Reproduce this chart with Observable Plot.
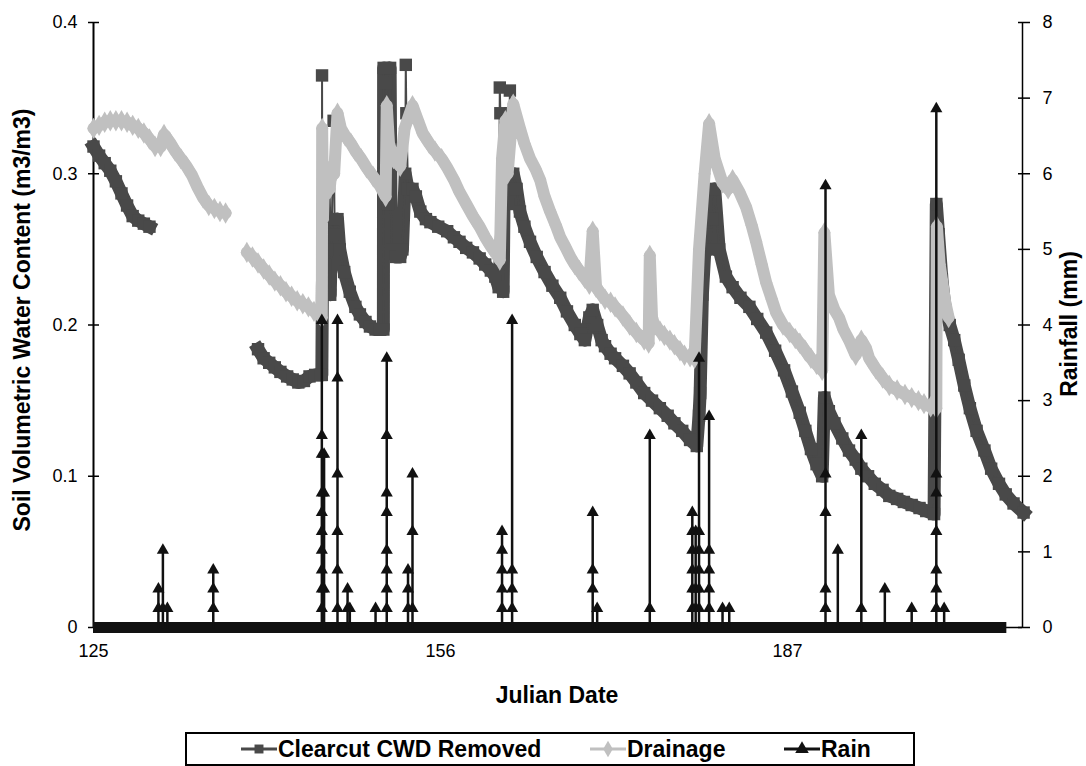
<!DOCTYPE html>
<html><head><meta charset="utf-8">
<script src="https://cdn.jsdelivr.net/npm/d3@7"></script>
<script src="https://cdn.jsdelivr.net/npm/@observablehq/plot@0.6"></script>
<style>
body{margin:0;background:#fff;font-family:"Liberation Sans",Arial,sans-serif;}
#chart{position:absolute;left:0;top:0;}
#legend{position:absolute;left:185px;top:732px;width:730px;height:34px;border:2px solid #000;box-sizing:border-box;background:#fff;}
.item{position:absolute;top:0;height:30px;display:flex;align-items:center;font-size:23px;font-weight:bold;color:#000;white-space:nowrap;}
.item svg{margin-right:1px;}
</style></head><body>
<div id="chart"></div>
<div id="legend"></div>
<script>
// ---------- data ----------
const xDomain = [125, 208];
const yDomain = [0, 0.4];
const rainMax = 8;
const leftTicks = [0, 0.1, 0.2, 0.3, 0.4];
const rightTicks = [0, 1, 2, 3, 4, 5, 6, 7, 8];
const xTicks = [125, 156, 187];
const seriesNames = ["Clearcut CWD Removed", "Drainage", "Rain"];

// Clearcut CWD Removed (m3/m3): continuous record; NaN = gap in record
const ccDay = [125.0,125.5,126.0,126.5,127.0,127.5,128.0,128.5,129.0,129.5,130.0,
  135.0,
  139.7,140.2,140.7,141.2,141.7,142.3,142.8,143.3,143.8,144.3,144.8,145.3,
  145.4,145.45,145.6,145.75,145.95,146.15,146.3,146.55,146.8,147.0,147.4,147.9,148.4,148.8,149.3,149.7,150.2,150.6,150.9,
  150.92,151.0,151.15,151.3,151.5,151.6,152.0,152.4,152.6,152.85,153.1,153.5,153.8,154.2,154.7,155.1,155.8,156.6,157.2,157.7,158.3,158.9,159.5,160.0,160.5,160.9,
  161.2,161.45,161.6,161.7,162.1,162.5,162.8,163.1,163.5,164.0,164.6,165.3,166.0,166.7,167.3,168.0,168.5,168.9,169.3,169.6,170.0,170.4,170.7,171.2,171.6,172.3,172.9,173.5,174.2,174.9,175.6,176.3,176.9,177.6,178.3,178.9,
  179.1,179.2,179.4,179.7,180.0,180.3,180.5,180.9,181.5,182.1,182.8,183.6,184.3,185.1,185.9,186.7,187.4,188.1,188.6,189.1,189.6,190.1,
  190.3,190.7,191.2,191.9,192.5,193.1,193.6,194.2,194.8,195.5,196.1,196.8,197.4,198.1,198.8,199.4,200.1,
  200.3,200.5,200.8,201.1,201.5,201.9,202.3,202.8,203.3,203.9,204.6,205.2,205.9,206.5,207.2,208.1];
const ccVal = [0.318,0.312,0.307,0.302,0.295,0.287,0.279,0.272,0.269,0.267,0.265,
  NaN,
  0.184,0.178,0.175,0.172,0.169,0.166,0.164,0.162,0.163,0.166,0.167,0.167,
  0.167,0.225,0.29,0.24,0.25,0.22,0.27,0.26,0.27,0.25,0.235,0.222,0.212,0.207,0.202,0.199,0.197,0.197,0.197,
  0.37,0.3,0.36,0.28,0.37,0.25,0.245,0.245,0.25,0.3,0.29,0.29,0.285,0.275,0.27,0.268,0.265,0.262,0.258,0.255,0.251,0.248,0.244,0.24,0.236,0.232,
  0.225,0.26,0.222,0.3,0.28,0.3,0.29,0.275,0.265,0.255,0.245,0.235,0.226,0.218,0.209,0.2,0.194,0.19,0.205,0.21,0.2,0.19,0.186,0.181,0.178,0.173,0.168,0.162,0.155,0.15,0.145,0.14,0.135,0.13,0.124,0.12,
  0.14,0.155,0.22,0.26,0.25,0.27,0.29,0.25,0.232,0.225,0.218,0.212,0.204,0.195,0.183,0.17,0.156,0.142,0.13,0.118,0.108,0.1,
  0.152,0.143,0.135,0.125,0.117,0.111,0.105,0.1,0.095,0.091,0.087,0.085,0.083,0.081,0.079,0.077,0.075,
  0.28,0.26,0.23,0.21,0.2,0.19,0.177,0.16,0.145,0.13,0.117,0.105,0.095,0.088,0.082,0.076];
// Clearcut: isolated high readings (spikes)
const ccPeakDay = [145.42,146.45,152.9,152.95,161.3,161.35,161.9,162.2,162.25];
const ccPeakVal = [0.365,0.335,0.372,0.34,0.357,0.34,0.33,0.355,0.34];

// Drainage (m3/m3)
const drDay = [125.0,125.5,126.0,126.5,127.0,127.5,128.0,128.5,129.0,129.5,130.0,130.5,131.0,131.3,131.8,132.3,132.8,133.3,133.8,134.3,134.8,135.3,135.8,136.3,136.8,
  137.7,
  138.7,139.2,139.7,140.2,140.7,141.2,141.7,142.2,142.7,143.2,143.7,144.2,144.7,145.2,
  145.4,145.43,145.5,145.6,145.8,146.1,146.3,146.5,146.8,147.1,147.5,148.0,148.4,148.9,149.4,150.0,150.6,151.1,
  151.2,151.4,151.8,152.4,152.8,153.5,154.0,154.4,155.0,155.5,156.1,156.6,157.2,157.7,158.3,158.9,159.5,160.0,160.5,160.9,161.3,
  161.5,161.8,162.0,162.5,163.1,163.5,164.0,164.5,164.9,165.3,165.8,166.3,166.7,167.2,167.6,168.0,168.4,168.9,169.3,
  169.6,169.9,170.3,170.7,171.2,171.6,172.3,172.9,173.5,174.2,174.6,174.7,174.9,175.1,175.6,176.0,176.5,176.9,177.4,177.8,178.3,178.7,
  179.1,179.6,180.0,180.5,181.2,181.7,182.1,182.7,183.3,183.8,184.2,184.7,185.1,185.6,186.0,186.6,187.2,187.7,188.1,188.6,189.1,189.6,190.1,
  190.3,190.7,191.2,191.6,192.0,192.5,193.1,193.6,194.0,194.3,194.9,195.5,196.1,196.8,197.5,198.1,198.7,199.2,199.8,200.3,
  200.35,200.6,200.8,201.1,201.4];
const drVal = [0.33,0.332,0.334,0.335,0.335,0.335,0.334,0.332,0.33,0.327,0.323,0.318,0.318,0.326,0.321,0.315,0.31,0.305,0.299,0.291,0.284,0.279,0.277,0.275,0.274,
  NaN,
  0.248,0.245,0.241,0.237,0.233,0.229,0.226,0.222,0.219,0.216,0.214,0.212,0.209,0.207,
  0.205,0.33,0.27,0.3,0.3,0.29,0.305,0.3,0.34,0.33,0.325,0.32,0.315,0.31,0.304,0.298,0.292,0.285,
  0.345,0.32,0.31,0.305,0.33,0.345,0.335,0.327,0.32,0.315,0.31,0.304,0.296,0.288,0.28,0.272,0.265,0.258,0.252,0.248,0.243,
  0.31,0.335,0.3,0.346,0.33,0.32,0.31,0.303,0.296,0.285,0.275,0.266,0.258,0.251,0.245,0.24,0.236,0.231,0.227,
  0.262,0.225,0.221,0.217,0.215,0.212,0.206,0.2,0.195,0.19,0.188,0.246,0.205,0.2,0.196,0.193,0.19,0.187,0.183,0.18,0.179,0.178,
  0.25,0.3,0.333,0.31,0.294,0.29,0.296,0.288,0.278,0.266,0.255,0.24,0.228,0.217,0.208,0.2,0.195,0.191,0.188,0.183,0.178,0.174,0.17,
  0.261,0.22,0.21,0.205,0.197,0.19,0.18,0.19,0.185,0.178,0.171,0.165,0.16,0.157,0.154,0.152,0.15,0.148,0.146,0.145,
  0.265,0.24,0.23,0.215,0.205];

// Rain (mm): readings at each rain event day
const rainDay = [130.8,131.2,131.6,135.7,145.4,145.6,146.8,147.7,147.9,150.2,151.2,153.1,153.5,161.5,162.4,169.6,170.0,174.7,178.5,178.8,179.1,180.0,181.2,181.8,190.4,191.5,193.6,195.7,198.1,200.3,201.0];
const rainVal = [
  [0.25,0.51],[0.25,1.02],[0.25],[0.25,0.51,0.76],
  [0.25,0.51,0.76,1.02,1.27,1.52,1.78,2.29,2.54,4.06],[0.51,1.78,2.29],
  [0.25,0.76,1.27,2.03,3.3,4.06],[0.25,0.51],[0.25],[0.25],
  [0.25,0.51,0.76,1.02,1.52,1.78,2.54,3.56],[0.25,0.51,0.76],[0.25,1.27,2.03],
  [0.25,0.51,0.76,1.02,1.27],[0.25,0.51,0.76,4.06],
  [0.51,0.76,1.52],[0.25],[0.25,2.54],
  [0.25,0.51,0.76,1.02,1.27,1.52],[0.25,0.51,1.27],[0.25,0.51,0.76,1.02,1.27,3.56],[0.25,0.51,0.76,1.02,2.79],
  [0.25],[0.25],
  [0.25,0.51,1.52,2.03,5.84],[1.02],[0.25,2.54],[0.51],[0.25],
  [0.25,0.51,0.76,1.27,1.78,2.03,6.86],[0.25]];
const rainRecord = [125, 206.6]; // span of the rain gauge record (zero readings)

// ---------- build ----------
const k = yDomain[1] / rainMax; // rainfall mm -> left-axis units
const cc = ccDay.map((d, i) => ({day: d, v: ccVal[i]}));
const ccPeaks = ccPeakDay.map((d, i) => ({day: d, v: ccPeakVal[i]}));
const ccAll = cc.concat(ccPeaks).sort((a, b) => a.day - b.day);
const dr = drDay.map((d, i) => ({day: d, v: drVal[i]}));
const rainLines = rainDay.flatMap((d, i) => [{day: d, r: 0, ev: i}, ...rainVal[i].map(r => ({day: d, r, ev: i}))]);
const rainPts = rainDay.flatMap((d, i) => rainVal[i].map(r => ({day: d, r})));

const CC = "#494949", DR = "#c0c0c0", RN = "#111111";

const chart = Plot.plot({
  width: 1086, height: 720,
  marginLeft: 93, marginRight: 64, marginTop: 22, marginBottom: 93,
  x: {domain: xDomain},
  y: {domain: yDomain},
  style: {fontFamily: "'Liberation Sans', Arial, sans-serif", fontSize: "18px", color: "#000", background: "#fff"},
  marks: [
    Plot.ruleY([0], {x1: xDomain[0], x2: xDomain[1], stroke: "#000", strokeWidth: 1.5}),
    Plot.ruleX([xDomain[0]], {y1: yDomain[0], y2: yDomain[1], stroke: "#000", strokeWidth: 2}),
    Plot.ruleX([xDomain[1]], {y1: yDomain[0], y2: yDomain[1], stroke: "#000", strokeWidth: 1.5}),
    Plot.axisY({ticks: leftTicks, tickFormat: d => String(+d.toFixed(1)), tickSize: 11, dx: 6, tickPadding: 11, strokeWidth: 1.5, label: null}),
    Plot.axisY({anchor: "right", ticks: rightTicks.map(r => r * k), tickFormat: v => String(Math.round(v / k)), tickSize: 12, dx: -5, tickPadding: 13, strokeWidth: 1.5, label: null}),
    Plot.axisX({ticks: xTicks, tickFormat: d => String(d), tickSize: 0, tickPadding: 17, label: null}),
    // clearcut
    Plot.line(cc, {x: "day", y: "v", stroke: CC, strokeWidth: 13, strokeLinejoin: "round", strokeLinecap: "square"}),
    Plot.line(ccAll, {x: "day", y: "v", stroke: CC, strokeWidth: 2}),
    Plot.dot(ccAll, {x: "day", y: "v", symbol: "square", r: 7, fill: CC}),
    // drainage
    Plot.line(dr, {x: "day", y: "v", stroke: DR, strokeWidth: 12, strokeLinejoin: "round", strokeLinecap: "round"}),
    Plot.dot(dr, {x: "day", y: "v", symbol: "diamond", r: 6.5, fill: DR}),
    // rain
    Plot.ruleY([0], {x1: rainRecord[0], x2: rainRecord[1], stroke: RN, strokeWidth: 11}),
    Plot.line(rainLines, {x: "day", y: d => d.r * k, z: "ev", stroke: RN, strokeWidth: 2.5}),
    Plot.dot(rainPts, {x: "day", y: d => d.r * k, symbol: "triangle", r: 4.5, fill: RN})
  ]
});
document.getElementById("chart").appendChild(chart);

const svg = d3.select(chart);
svg.append("text").attr("transform", "translate(24,320) rotate(-90)")
  .attr("text-anchor", "middle").attr("dominant-baseline", "middle")
  .attr("font-weight", "bold").attr("font-size", 23).attr("fill", "#000")
  .text("Soil Volumetric Water Content (m3/m3)");
svg.append("text").attr("transform", "translate(1071,324) rotate(-90)")
  .attr("text-anchor", "middle").attr("dominant-baseline", "middle")
  .attr("font-weight", "bold").attr("font-size", 23).attr("fill", "#000")
  .text("Rainfall (mm)");
svg.append("text").attr("x", 557).attr("y", 697)
  .attr("text-anchor", "middle").attr("dominant-baseline", "middle")
  .attr("font-weight", "bold").attr("font-size", 23).attr("fill", "#000")
  .text("Julian Date");

// ---------- legend ----------
const legend = d3.select("#legend");
const items = [
  {name: seriesNames[0], color: CC, sym: d3.symbolSquare, left: 54},
  {name: seriesNames[1], color: DR, sym: d3.symbolDiamond, left: 403},
  {name: seriesNames[2], color: RN, sym: d3.symbolTriangle, left: 597}
];
for (const it of items) {
  const div = legend.append("div").attr("class", "item").style("left", it.left + "px");
  const s = div.append("svg").attr("width", 36).attr("height", 20);
  s.append("line").attr("x1", 0).attr("x2", 36).attr("y1", 10).attr("y2", 10).attr("stroke", it.color).attr("stroke-width", 3);
  s.append("path").attr("transform", "translate(18,10)").attr("fill", it.color)
    .attr("d", d3.symbol(it.sym, 80)());
  div.append("span").text(it.name);
}
</script>
</body></html>
